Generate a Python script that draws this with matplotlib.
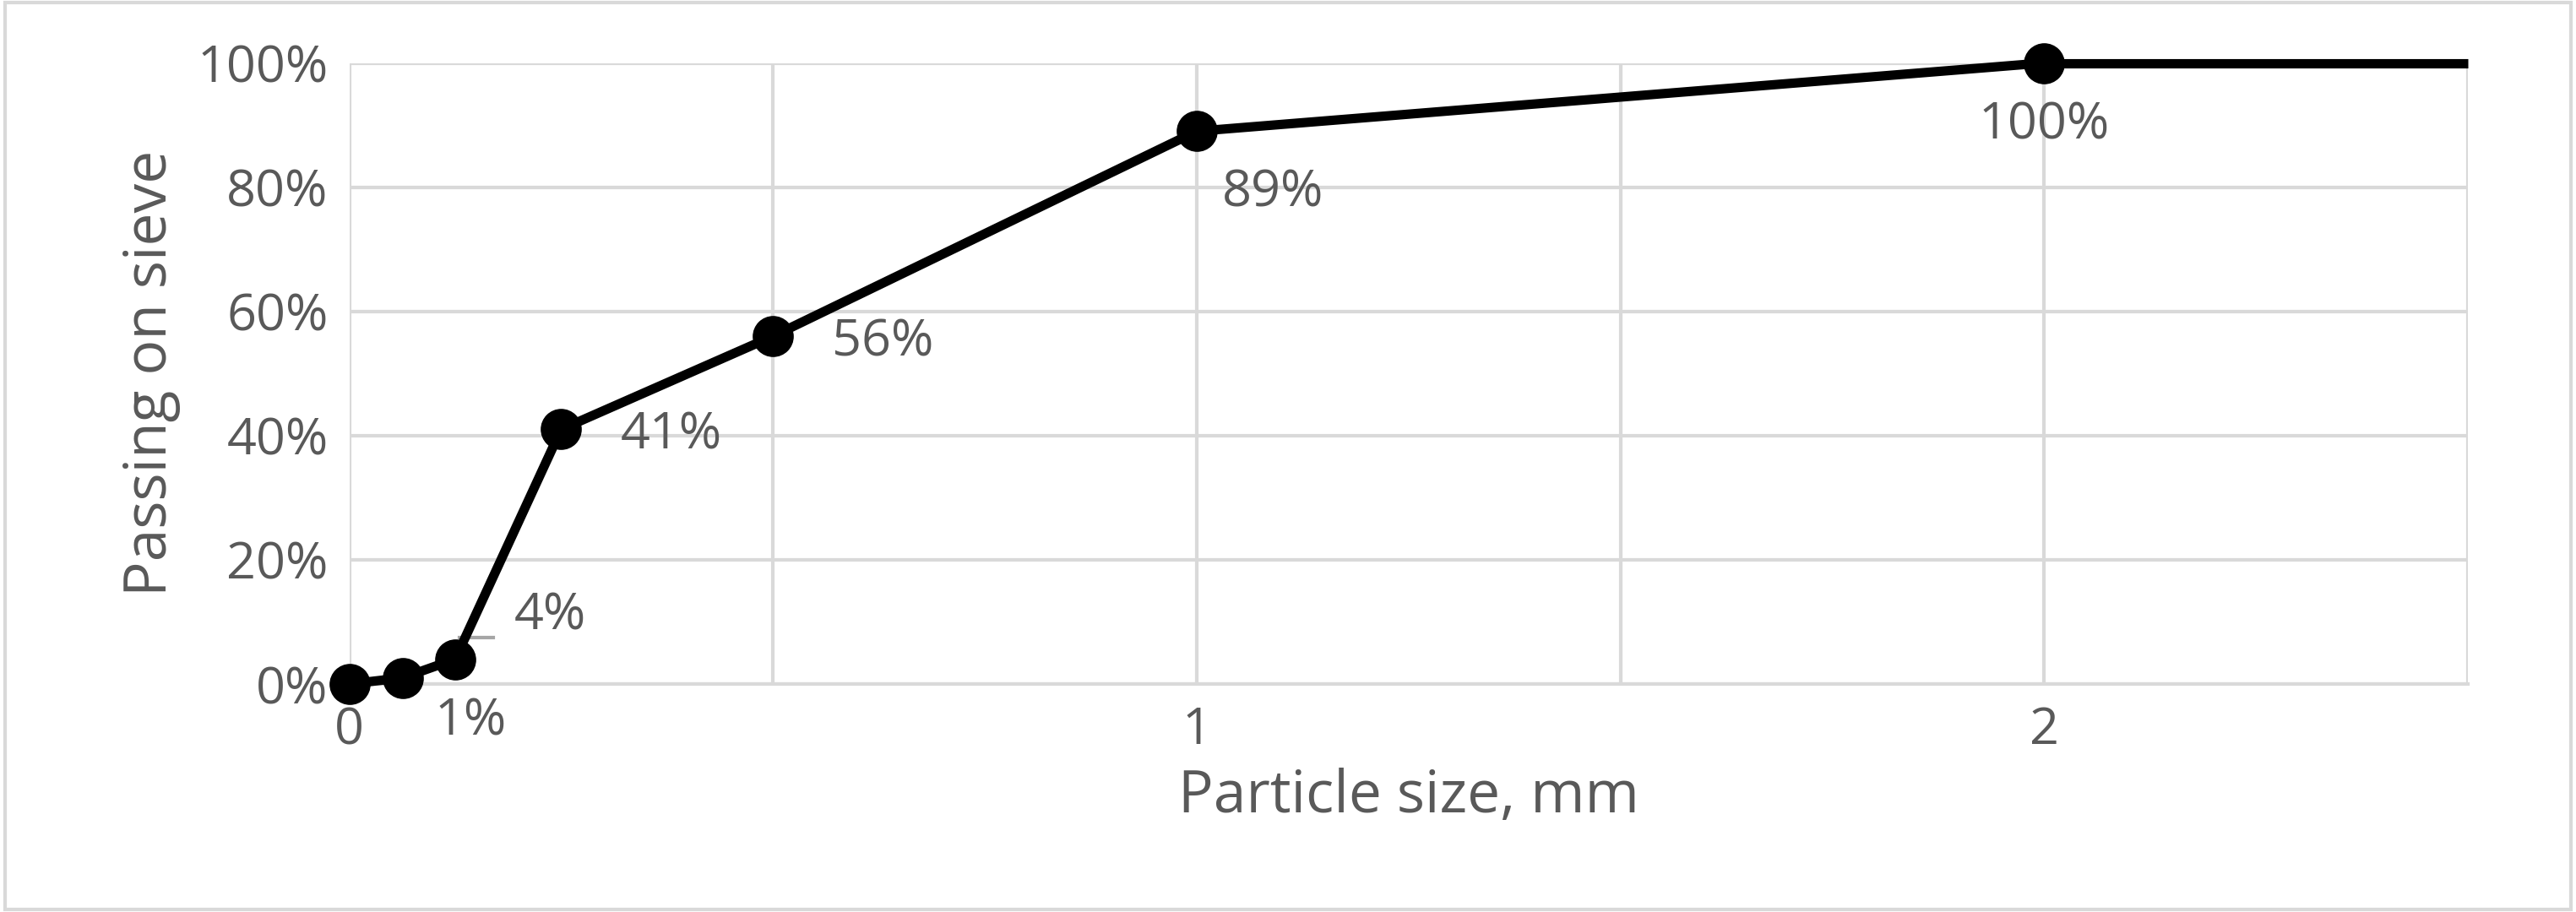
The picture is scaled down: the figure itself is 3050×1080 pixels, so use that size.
import matplotlib
matplotlib.use("Agg")
import matplotlib.pyplot as plt
from matplotlib.ticker import FuncFormatter, MultipleLocator, FixedLocator

plt.rcParams['font.family'] = ['Open Sans', 'DejaVu Sans']

sizes = [0, 0.063, 0.125, 0.25, 0.5, 1, 2]
passing = [0, 1, 4, 41, 56, 89, 100]
labels = ["", "1%", "4%", "41%", "56%", "89%", "100%"]
tail_x = [2, 2.5]
tail_y = [100, 100]

fig = plt.figure(figsize=(30.5, 10.8), dpi=100)
ax = fig.add_axes([0.1356, 0.25, 0.958 - 0.1356, 0.681])
grey = "#595959"
ax.plot(tail_x, tail_y, color="black", lw=8, solid_capstyle="butt", clip_on=False)
ax.plot(sizes, passing, color="black", lw=8, marker="o", ms=34, clip_on=False, zorder=3)

offsets = {1: (0.08, -7, "center"), 2: (0.07, 7, "left"), 3: (0.07, -1, "left"),
           4: (0.07, -1, "left"), 5: (0.03, -10, "left"), 6: (0, -10, "center")}
for i, (dx, dy, ha) in offsets.items():
    ax.text(sizes[i] + dx, passing[i] + dy, labels[i], fontsize=44, color=grey,
            ha=ha, va="center")
ax.plot([0.13, 0.17], [7.5, 7.5], color="#a6a6a6", lw=3)

ax.set_xlim(0, 2.5)
ax.set_ylim(0, 100)
ax.xaxis.set_major_locator(FixedLocator([0, 1, 2]))
ax.xaxis.set_minor_locator(MultipleLocator(0.5))
ax.yaxis.set_major_locator(MultipleLocator(20))
ax.yaxis.set_major_formatter(FuncFormatter(lambda v, p: f"{v:.0f}%"))
ax.grid(True, which="both", color="#d9d9d9", lw=3)
ax.set_axisbelow(True)
for s in ["top", "right", "left"]:
    ax.spines[s].set_visible(False)
ax.spines["bottom"].set_color("#d9d9d9")
ax.spines["bottom"].set_linewidth(3)
ax.tick_params(which="both", length=0, labelsize=44, labelcolor=grey, pad=18)
ax.set_xlabel("Particle size, mm", fontsize=50, color=grey, labelpad=10)
ax.set_ylabel("Passing on sieve", fontsize=50, color=grey, labelpad=14)

fig.patches.append(plt.Rectangle((0.002, 0.003), 0.996, 0.994, transform=fig.transFigure,
                                 fill=False, edgecolor="#d9d9d9", lw=3))
fig.savefig("out.png", dpi=100)
